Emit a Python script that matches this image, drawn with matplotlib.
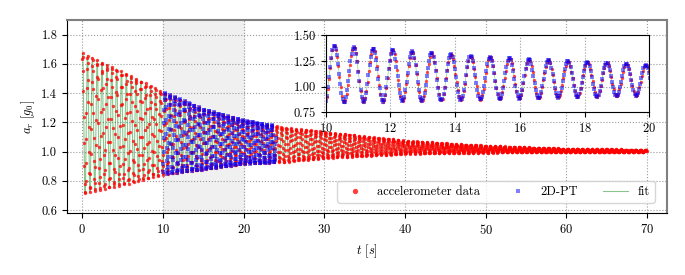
import matplotlib
matplotlib.use("Agg")
import matplotlib.pyplot as plt
import numpy as np

plt.rcParams['font.family'] = 'serif'
plt.rcParams['font.serif'] = ['cmr10']
plt.rcParams['mathtext.fontset'] = 'cm'
plt.rcParams['axes.formatter.use_mathtext'] = True
plt.rcParams['font.size'] = 9

# envelope of the oscillation (upper / lower peaks, in g0)
env_t = [0, 5, 10.3, 15, 19.9, 25, 30, 40, 50, 60, 70]
env_upper = [1.675, 1.545, 1.40, 1.29, 1.215, 1.165, 1.135, 1.075, 1.04, 1.02, 1.012]
env_lower = [0.71, 0.77, 0.845, 0.875, 0.915, 0.928, 0.955, 0.985, 0.993, 0.996, 0.997]

# oscillation period and time of first maximum
period = 0.6015
t_first_peak = 0.04

# sampling of both measurements
acc_dt = 0.0362
acc_span = (0.0, 70.0)
pt_dt = 0.0347
pt_span = (10.0, 24.0)


def signal(t):
    up = np.interp(t, env_t, env_upper)
    lo = np.interp(t, env_t, env_lower)
    return (up + lo) / 2 + (up - lo) / 2 * np.cos(2 * np.pi * (t - t_first_peak) / period)


t_acc = np.arange(acc_span[0], acc_span[1], acc_dt)
a_acc = signal(t_acc)
t_pt = np.arange(pt_span[0], pt_span[1], pt_dt)
a_pt = signal(t_pt)
t_fit = np.linspace(0, 70, 20000)
a_fit = signal(t_fit)

fig = plt.figure(figsize=(6.85, 2.75), dpi=100)
ax = fig.add_axes([0.0978, 0.2255, 0.876, 0.7018])

ax.axvspan(10, 20, color='0.94', zorder=0)
ax.grid(True, linestyle=':', color='0.6', linewidth=0.8)
ax.set_axisbelow(True)

h_fit, = ax.plot(t_fit, a_fit, color='green', lw=0.8, alpha=0.45, zorder=1)
h_acc, = ax.plot(t_acc, a_acc, 'o', color='red', ms=2.4, mew=0, alpha=0.75, zorder=2)
h_pt, = ax.plot(t_pt, a_pt, 's', color='blue', ms=2.2, mew=0, alpha=0.5, zorder=3)

ax.set_xlim(-1.9, 72.5)
ax.set_ylim(0.58, 1.9)
ax.set_xticks(range(0, 71, 10))
ax.set_yticks([0.6, 0.8, 1.0, 1.2, 1.4, 1.6, 1.8])
ax.yaxis.set_major_formatter(matplotlib.ticker.FormatStrFormatter('%.1f'))
ax.set_xlabel('$t$ [$s$]')
ax.set_ylabel('$a_r$ [$g_0$]', labelpad=3)
for s in ['top', 'right']:
    ax.spines[s].set_color('0.5')
    ax.spines[s].set_linewidth(1.5)

leg = ax.legend([h_acc, h_pt, h_fit], ['accelerometer data', '2D-PT', 'fit'],
                ncol=3, loc='lower right', bbox_to_anchor=(0.99, 0.02),
                markerscale=1.6, columnspacing=2.0, handlelength=2.0,
                handletextpad=0.8, fontsize=9)
leg.get_frame().set_edgecolor('0.8')

# inset with the detail between 10 s and 20 s
ins = fig.add_axes([0.4755, 0.5916, 0.4724, 0.28])
ins.grid(True, linestyle=':', color='0.6', linewidth=0.8)
ins.plot(t_fit, a_fit, color='green', lw=0.5, alpha=0.4)
ins.plot(t_acc, a_acc, 'o', color='red', ms=2.4, mew=0, alpha=0.7)
ins.plot(t_pt, a_pt, 's', color='blue', ms=2.2, mew=0, alpha=0.5)
ins.set_xlim(10, 20)
ins.set_ylim(0.75, 1.5)
ins.set_xticks(range(10, 21, 2))
ins.set_yticks([0.75, 1.0, 1.25, 1.5])
ins.yaxis.set_major_formatter(matplotlib.ticker.FormatStrFormatter('%.2f'))

fig.savefig('out.png', dpi=100)
